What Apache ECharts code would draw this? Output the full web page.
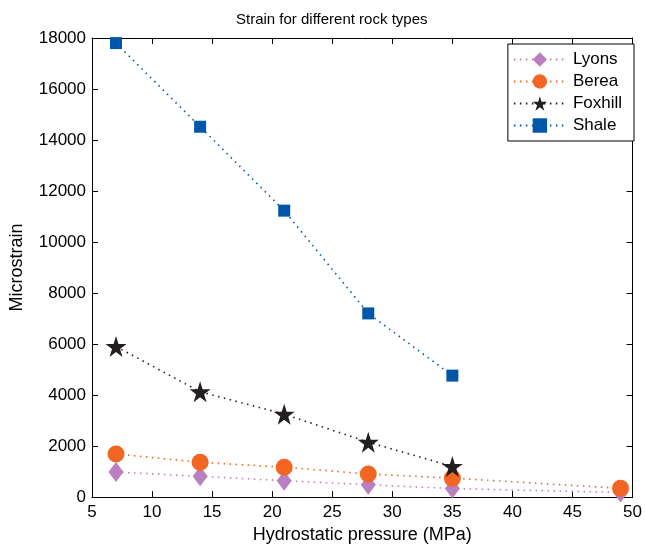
<!DOCTYPE html>
<html><head><meta charset="utf-8">
<script src="https://cdn.jsdelivr.net/npm/echarts@6/dist/echarts.min.js"></script>
<style>html,body{margin:0;padding:0;background:#fff}#c{width:645px;height:549px}</style>
</head><body><div id="c"></div>
<script>
const pressure = [7, 14, 21, 28, 35, 49];
const shalePressure = [7, 14, 21, 28, 35];
const lyons = [980, 810, 640, 480, 330, 180];
const berea = [1690, 1360, 1170, 900, 740, 340];
const foxhill = [5900, 4130, 3250, 2150, 1200];
const shale = [17800, 14520, 11230, 7200, 4760];
const xTicks = {min: 5, max: 50, interval: 5};
const yTicks = {min: 0, max: 18000, interval: 2000};

const FONT = 'Liberation Sans';
const star = 'path://M50,0 L61.2,34.5 L97.6,34.5 L68.2,55.9 L79.4,90.5 L50,69.1 L20.6,90.5 L31.8,55.9 L2.4,34.5 L38.8,34.5 Z';
function pairs(xs, ys){ return ys.map((v,i)=>[xs[i], v]); }
function mk(name, xs, ys, color, symbol, size){
  return {name, type:'line', data:pairs(xs, ys), symbol, symbolSize:size,
    itemStyle:{color}, lineStyle:{color, width:1.6, type:[1.5,4.5]}, z: 3};
}
const chart = echarts.init(document.getElementById('c'), null, {renderer:'canvas'});
const axisCommon = {
  axisLine:{show:true, onZero:false, lineStyle:{color:'#000', width:1}},
  axisTick:{show:true, inside:true, length:6, lineStyle:{color:'#000'}},
  splitLine:{show:false},
};
chart.setOption({
  animation:false,
  title:{text:'Strain for different rock types', left:231, top:7,
    textStyle:{fontFamily:FONT, fontSize:15, fontWeight:'normal', color:'#000'}},
  grid:{left:88, right:11, top:38, bottom:50},
  legend:{right:11, top:44, orient:'vertical', backgroundColor:'#fff', borderColor:'#000', borderWidth:1,
    itemWidth:52, itemHeight:18, itemGap:5, padding:[7,12,7,5],
    textStyle:{fontFamily:FONT, fontSize:17, color:'#000', padding:[0,0,0,2]},
    data:['Lyons','Berea','Foxhill','Shale']},
  xAxis:[
    Object.assign({type:'value', position:'bottom', min:xTicks.min, max:xTicks.max, interval:xTicks.interval,
      name:'Hydrostatic pressure (MPa)', nameLocation:'middle', nameGap:29,
      nameTextStyle:{fontFamily:FONT, fontSize:18, color:'#000'},
      axisLabel:{fontFamily:FONT, fontSize:17, color:'#000', margin:7}}, axisCommon),
    Object.assign({type:'value', position:'top', min:xTicks.min, max:xTicks.max, interval:xTicks.interval,
      axisLabel:{show:false}}, axisCommon)
  ],
  yAxis:[
    Object.assign({type:'value', position:'left', min:yTicks.min, max:yTicks.max, interval:yTicks.interval,
      name:'Microstrain', nameLocation:'middle', nameGap:66,
      nameTextStyle:{fontFamily:FONT, fontSize:18, color:'#000'},
      axisLabel:{fontFamily:FONT, fontSize:17, color:'#000', margin:6, formatter:v=>String(v)}}, axisCommon),
    Object.assign({type:'value', position:'right', min:yTicks.min, max:yTicks.max, interval:yTicks.interval,
      axisLabel:{show:false}}, axisCommon)
  ],
  series:[
    mk('Lyons', pressure, lyons, '#b97fbe', 'diamond', [15,20]),
    mk('Berea', pressure, berea, '#f26522', 'circle', 17),
    mk('Foxhill', shalePressure, foxhill, '#231f20', star, 21),
    mk('Shale', shalePressure, shale, '#0056a8', 'rect', 12)
  ]
});
</script></body></html>
